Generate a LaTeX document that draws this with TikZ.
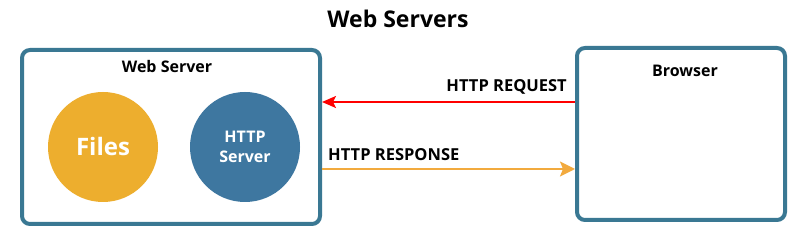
\documentclass[tikz,border=0pt]{standalone}
\usepackage{fontspec}
\setmainfont{Open Sans}
\usetikzlibrary{arrows.meta}
\definecolor{boxblue}{HTML}{3A7893}
\definecolor{httpblue}{HTML}{3E77A0}
\definecolor{filesorange}{HTML}{EDAE2E}
\definecolor{resporange}{HTML}{F2AA3E}
\tikzset{
  panel/.style={draw=boxblue,line width=4pt,rounded corners=8pt,fill=white},
  disc/.style={circle,minimum size=110pt,inner sep=0pt,text=white,font=\bfseries},
  lbl/.style={font=\bfseries\fontsize{16.5}{18}\selectfont,inner sep=0pt}
}
\begin{document}
\begin{tikzpicture}[x=1pt,y=1pt]
\useasboundingbox (0,0) rectangle (800,-245);
\node[font=\bfseries\fontsize{23}{27}\selectfont] (T) at (398,-19) {Web Servers};
\node[panel,minimum width=298pt,minimum height=174pt] (WS) at (171,-137) {};
\node[panel,minimum width=208pt,minimum height=172pt] (B) at (681,-134) {};
\node[font=\bfseries\fontsize{16}{18}\selectfont] (WSl) at (167,-67) {Web Server};
\node[font=\bfseries\fontsize{16}{18}\selectfont] (Bl) at (685,-71) {Browser};
\node[disc,fill=filesorange,font=\bfseries\fontsize{24}{28}\selectfont] (F) at (103,-147) {Files};
\node[disc,fill=httpblue,align=center,font=\bfseries\fontsize{16}{20}\selectfont] (H) at (245,-147) {HTTP\\Server};
\coordinate (rq) at (0,-102);
\coordinate (rs) at (0,-169);
\draw[red,line width=2pt,-{Stealth[length=14pt,width=12pt,inset=3pt]}] (B.west |- rq) -- (WS.east |- rq);
\draw[resporange,line width=2pt,-{Stealth[length=15pt,width=15pt,inset=3pt]}] (WS.east |- rs) -- (B.west |- rs);
\node[lbl,anchor=east] (Rq) at (567,-87) {HTTP REQUEST};
\node[lbl,anchor=west] (Rs) at (328,-155) {HTTP RESPONSE};
\end{tikzpicture}
\end{document}
